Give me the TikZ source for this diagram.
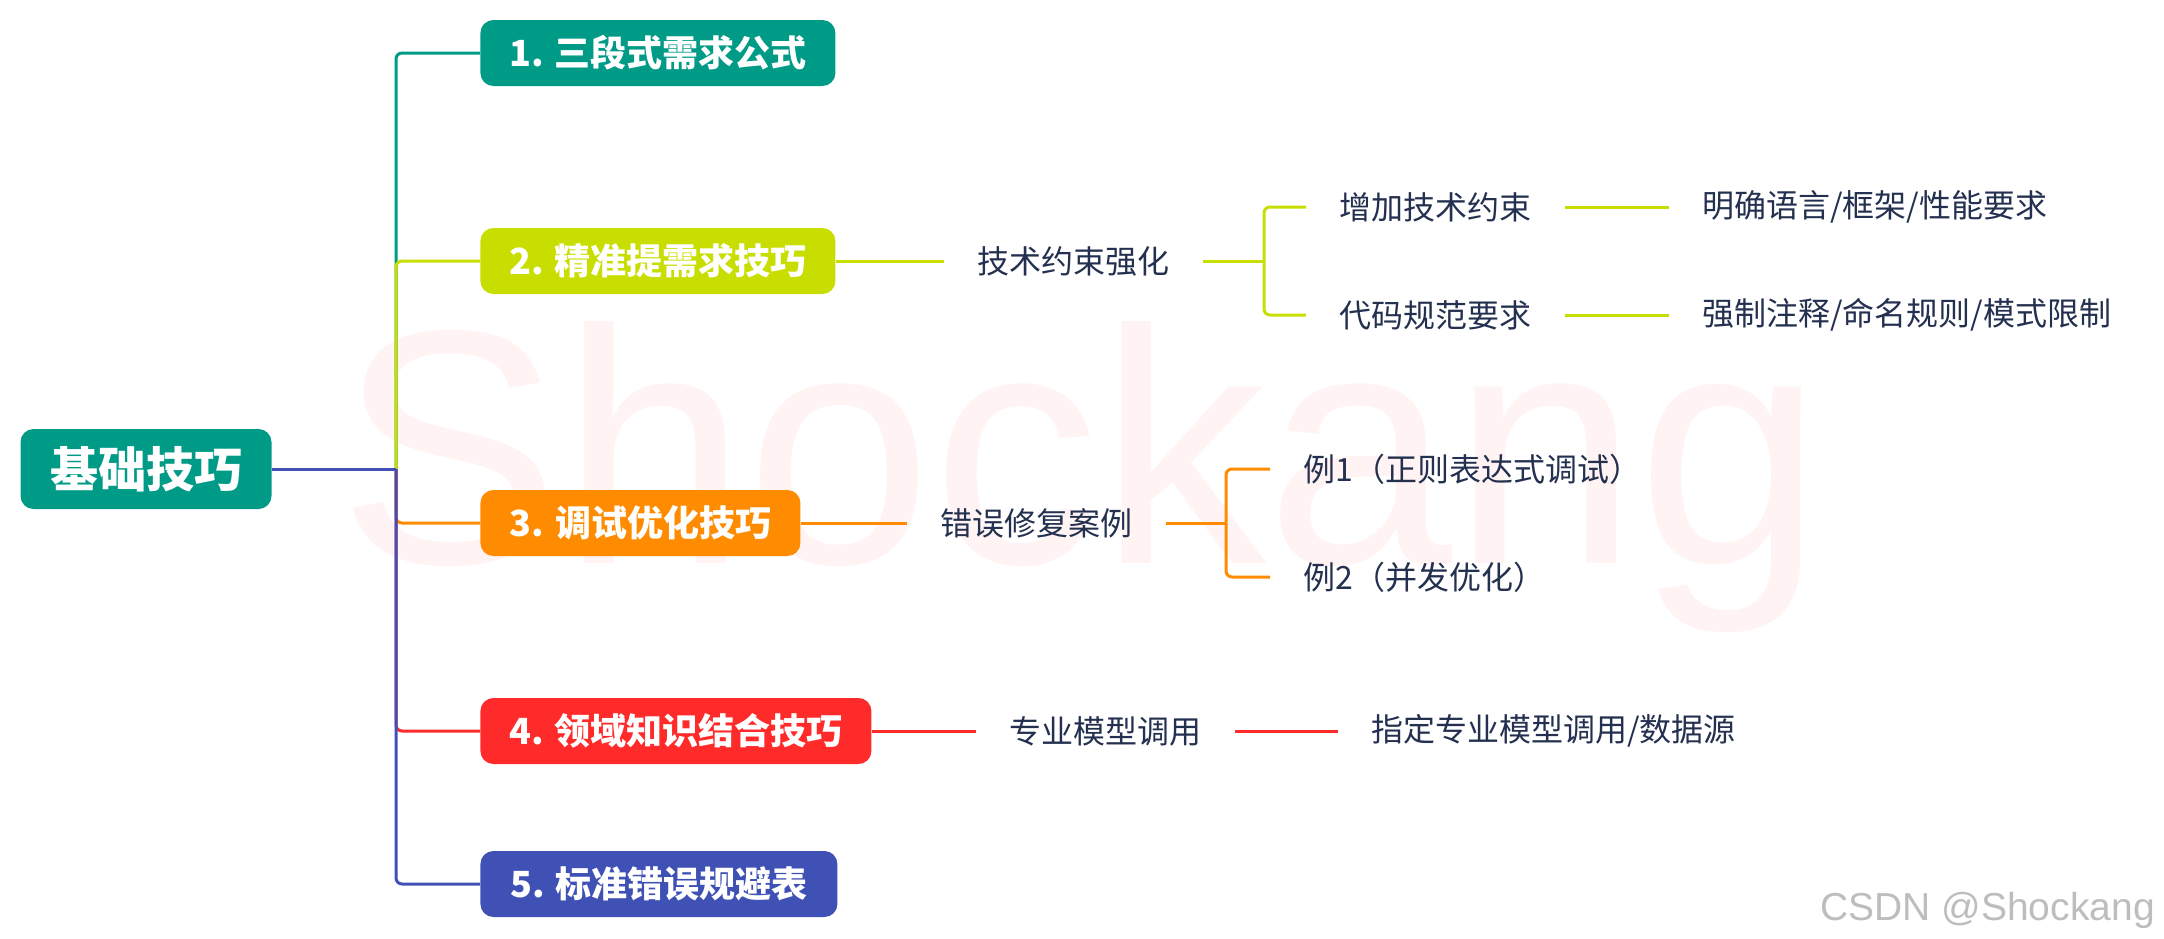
\documentclass[tikz,border=0pt]{standalone}
\usepackage{fontspec}
\setmainfont{Liberation Sans}
\newfontfamily\cjk{Noto Sans CJK SC}
\definecolor{cteal}{HTML}{009B87}
\definecolor{clime}{HTML}{C8DE00}
\definecolor{corange}{HTML}{FF8C00}
\definecolor{cred}{HTML}{FF2A2A}
\definecolor{cindigo}{HTML}{3F51B5}
\definecolor{ctext}{HTML}{24304F}
\definecolor{cwater}{HTML}{FFF3F3}
\definecolor{ccsdn}{HTML}{BDBDBD}
\tikzset{
  rootbox/.style={rounded corners=6.5pt, fill=cteal, text=white, inner sep=0pt,
    minimum width=125.5pt, minimum height=40pt,
    font=\cjk\bfseries\fontsize{24pt}{28pt}\selectfont},
  lvone/.style={rounded corners=6.5pt, text=white, inner sep=0pt, minimum height=33pt,
    anchor=west, font=\cjk\bfseries\fontsize{18pt}{21pt}\selectfont},
  lvtwo/.style={inner xsep=16.5pt, inner ysep=2pt, anchor=west, text=ctext,
    font=\cjk\fontsize{16pt}{19pt}\selectfont},
  link/.style={line width=1.5pt},
  elbow/.style={line width=1.5pt, rounded corners=3pt}
}
\begin{document}
\begin{tikzpicture}[x=0.5pt,y=-0.5pt]
\useasboundingbox (0,0) rectangle (2164,938);
% watermark
\node[anchor=base west, inner sep=0pt, text=cwater, font=\fontsize{167pt}{170pt}\selectfont] (wm) at (338,563) {Shockang};
\node[anchor=base west, inner sep=0pt, text=ccsdn, font=\fontsize{19.5pt}{22pt}\selectfont] (csdn) at (1820,920) {CSDN @Shockang};

% root and level one
\node[rootbox] (root) at (146,469) {基础技巧};
\coordinate (J) at (396,469);
\node[lvone, fill=cteal, minimum width=177.5pt] (n1) at (480,53) {1. 三段式需求公式};
\node[lvone, fill=clime, minimum width=177.5pt] (n2) at (480,261) {2. 精准提需求技巧};
\node[lvone, fill=corange, minimum width=160pt] (n3) at (480,523) {3. 调试优化技巧};
\node[lvone, fill=cred, minimum width=195.5pt] (n4) at (480,731) {4. 领域知识结合技巧};
\node[lvone, fill=cindigo, minimum width=178.5pt] (n5) at (480,884) {5. 标准错误规避表};

\draw[elbow, cteal] (J) |- (n1.west);
\draw[elbow, clime] (J) |- (n2.west);
\draw[elbow, corange] (J) |- (n3.west);
\draw[elbow, cred] (J) |- (n4.west);
\draw[elbow, cindigo] (J) |- (n5.west);
\draw[link, cindigo] (root.east) -- (J);

% branch 2
\node[lvtwo] (t21) at (944,261) {技术约束强化};
\node[lvtwo] (t211) at (1306,207) {增加技术约束};
\node[lvtwo] (t212) at (1306,315) {代码规范要求};
\node[lvtwo] (t2111) at (1669,207) {明确语言/框架/性能要求};
\node[lvtwo] (t2121) at (1669,315) {强制注释/命名规则/模式限制};
\coordinate (b2) at (1264,261);
\draw[link, clime] (n2.east) -- (t21.west);
\draw[link, clime] (t21.east) -- (b2);
\draw[elbow, clime] (b2) |- (t211.west);
\draw[elbow, clime] (b2) |- (t212.west);
\draw[link, clime] (t211.east) -- (t2111.west);
\draw[link, clime] (t212.east) -- (t2121.west);

% branch 3
\node[lvtwo] (t31) at (907,523) {错误修复案例};
\node[lvtwo] (t311) at (1270,469) {例1（正则表达式调试）};
\node[lvtwo] (t312) at (1270,577) {例2（并发优化）};
\coordinate (b3) at (1226,523);
\draw[link, corange] (n3.east) -- (t31.west);
\draw[link, corange] (t31.east) -- (b3);
\draw[elbow, corange] (b3) |- (t311.west);
\draw[elbow, corange] (b3) |- (t312.west);

% branch 4
\node[lvtwo] (t41) at (976,731) {专业模型调用};
\node[lvtwo] (t411) at (1338,731) {指定专业模型调用/数据源};
\draw[link, cred] (n4.east) -- (t41.west);
\draw[link, cred] (t41.east) -- (t411.west);
\end{tikzpicture}
\end{document}
